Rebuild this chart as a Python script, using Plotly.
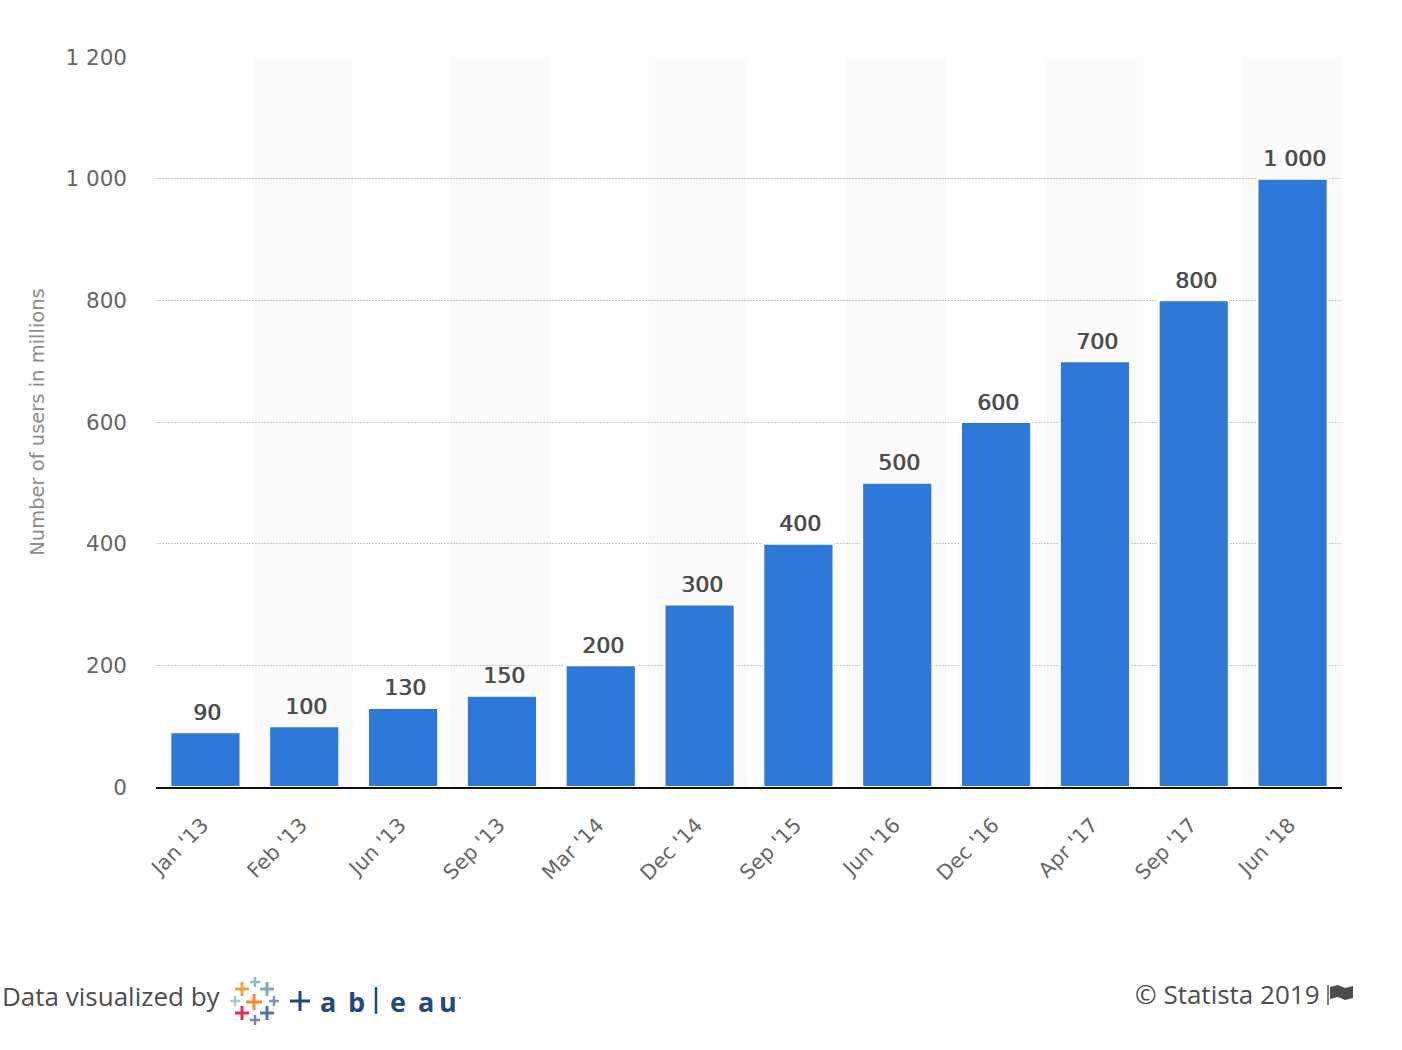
import plotly.graph_objects as go

W, H = 1402, 1050

categories = ["Jan '13", "Feb '13", "Jun '13", "Sep '13", "Mar '14", "Dec '14",
              "Sep '15", "Jun '16", "Dec '16", "Apr '17", "Sep '17", "Jun '18"]
users = [90, 100, 130, 150, 200, 300, 400, 500, 600, 700, 800, 1000]
user_labels = ["90", "100", "130", "150", "200", "300", "400", "500", "600", "700", "800", "1 000"]
y_ticks = [0, 200, 400, 600, 800, 1000, 1200]
y_tick_labels = ["0", "200", "400", "600", "800", "1 000", "1 200"]

LEFT, RIGHT, TOP, BOTTOM = 156, 1342, 57, 787


# page pixels to paper coordinates, for the footer bits
def px(x):
    return (x - LEFT) / (RIGHT - LEFT)


def py(y):
    return (BOTTOM - y) / (BOTTOM - TOP)


fig = go.Figure()
fig.add_trace(go.Bar(
    x=categories, y=users,
    width=0.71, marker=dict(color="#2d78d9", line=dict(color="white", width=2)),
    hoverinfo="x+y",
))

shapes = []
# alternating background bands
for i in range(1, len(categories), 2):
    shapes.append(dict(type="rect", xref="x", yref="paper", x0=i - 0.515, x1=min(i + 0.49, 11.5), y0=0, y1=1,
                       fillcolor="#fafafa", line_width=0, layer="below"))


def plus(cx, cy, size, color, width):
    shapes.append(dict(type="line", xref="paper", yref="paper", x0=px(cx - size), x1=px(cx + size),
                       y0=py(cy), y1=py(cy), line=dict(color=color, width=width)))
    shapes.append(dict(type="line", xref="paper", yref="paper", x0=px(cx), x1=px(cx),
                       y0=py(cy - size), y1=py(cy + size), line=dict(color=color, width=width)))


# tableau logo
plus(254, 1002, 8, "#ee8a35", 3)
plus(242, 989, 7, "#ef9f4a", 3)
plus(255, 982, 5, "#8fb8c0", 2.5)
plus(267, 989, 7, "#7fabb3", 3)
plus(235, 1001, 5, "#a9c9cf", 2.5)
plus(274, 1001, 5, "#8791b5", 2.5)
plus(242, 1013, 7, "#d8344f", 3)
plus(267, 1013, 7, "#4a76a3", 3)
plus(255, 1020, 5, "#7585ab", 2.5)
plus(300, 1001, 10, "#1f4a80", 3)
shapes.append(dict(type="line", xref="paper", yref="paper", x0=px(376), x1=px(376),
                   y0=py(987), y1=py(1014), line=dict(color="#1f4a80", width=2.5)))
shapes.append(dict(type="line", xref="paper", yref="paper", x0=px(459), x1=px(461),
                   y0=py(998), y1=py(998), line=dict(color="#6f87a8", width=1.5)))

# flag next to the copyright
shapes.append(dict(type="line", xref="paper", yref="paper", x0=px(1328), x1=px(1328),
                   y0=py(985), y1=py(1005), line=dict(color="#555555", width=1.5)))
fx = [1330, 1338, 1345, 1353, 1353, 1345, 1338, 1330]
fy = [987, 985, 988, 986, 998, 1000, 997, 999]
path = "M " + " L ".join(f"{px(a)},{py(b)}" for a, b in zip(fx, fy)) + " Z"
shapes.append(dict(type="path", xref="paper", yref="paper", path=path, fillcolor="#4d4d4d", line_width=0))

annotations = [
    dict(x=px(0), y=py(996), text="Data visualized by", xanchor="left",
         font=dict(family="Open Sans", size=26, color="#4d4d4d")),
    dict(x=px(1133), y=py(994), text="© Statista 2019", xanchor="left",
         font=dict(family="Open Sans", size=26, color="#4d4d4d")),
]
for letter, x in zip("abeau", [328, 356, 398, 426, 448]):
    annotations.append(dict(x=px(x), y=py(1001), text=letter, xanchor="center",
                            font=dict(family="Open Sans", size=27, color="#1f4a80", weight="bold")))
for a in annotations:
    a.update(xref="paper", yref="paper", showarrow=False, yanchor="middle")

# value labels sit further above the bars than textposition outside allows
for cat, val, label in zip(categories, users, user_labels):
    annotations.append(dict(x=cat, y=val, text=label, xref="x", yref="y", showarrow=False,
                            yanchor="middle", xanchor="center", yshift=20, xshift=2,
                            font=dict(family="DejaVu Sans", size=22, color="#4d4d4d",
                                      shadow="0.7px 0 0 #4d4d4d")))

fig.update_layout(
    width=W, height=H, autosize=False, showlegend=False,
    margin=dict(l=LEFT, r=W - RIGHT, t=TOP, b=H - BOTTOM, pad=0),
    paper_bgcolor="white", plot_bgcolor="white",
    shapes=shapes, annotations=annotations,
    font=dict(family="DejaVu Sans", color="#666666"),
)
fig.update_xaxes(type="category", range=[-0.5, 11.5], tickangle=-45, showgrid=False,
                 showline=True, linecolor="#111111", linewidth=2, ticks="",
                 ticklabelstandoff=16, ticklabelshift=-3,
                 tickfont=dict(size=20.5, color="#666666"))
fig.update_yaxes(range=[0, 1200], tickvals=y_ticks, ticktext=y_tick_labels, showline=False,
                 gridcolor="#c6c6c6", griddash="2px,1px", gridwidth=1, zeroline=False, ticks="",
                 ticklabelstandoff=28,
                 tickfont=dict(size=21.5, color="#666666"),
                 title=dict(text="Number of users in millions", standoff=15,
                            font=dict(size=19.5, color="#8c8c8c")))

fig.write_html("out.html", config={"displayModeBar": False},
               post_script="document.body.style.margin='0';")
